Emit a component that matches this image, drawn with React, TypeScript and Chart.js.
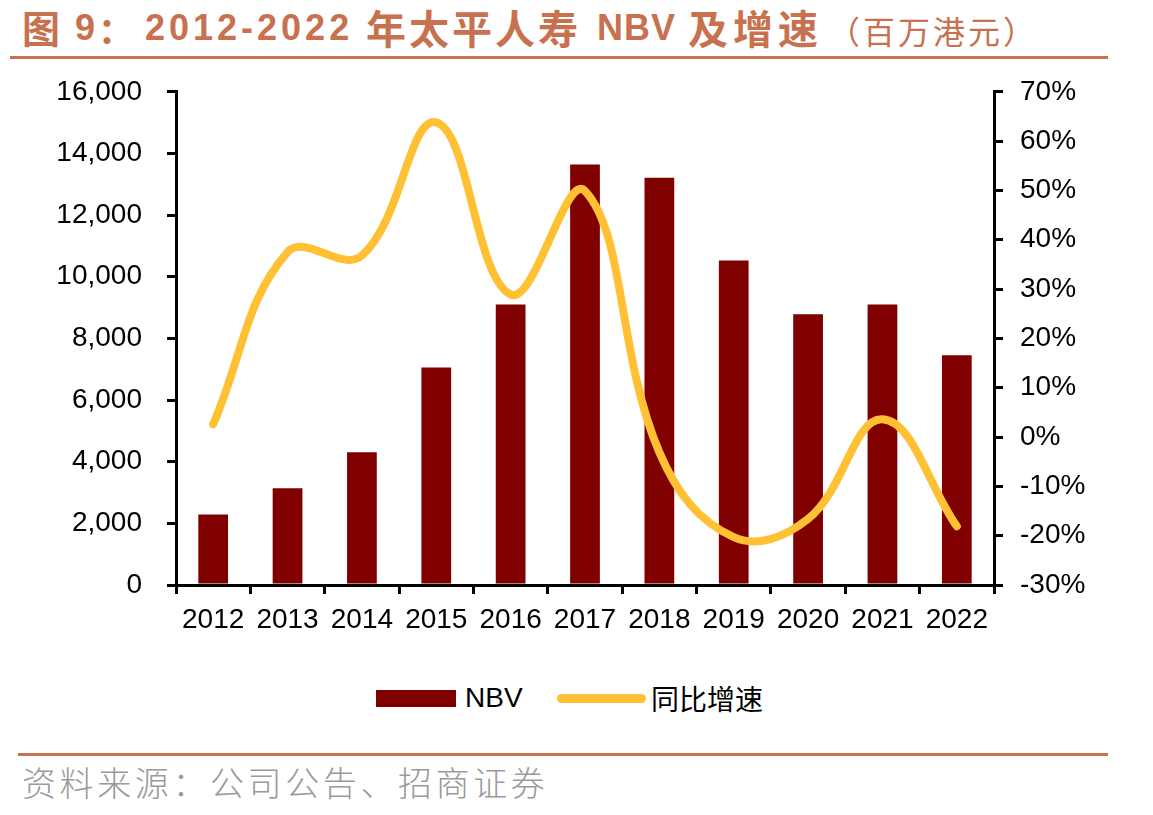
import React, { useEffect, useRef } from 'react';
import { Chart, registerables } from 'chart.js';

Chart.register(...registerables);

const years = ['2012', '2013', '2014', '2015', '2016', '2017', '2018', '2019', '2020', '2021', '2022'];
const nbv = [2290, 3140, 4310, 7060, 9100, 13640, 13215, 10530, 8780, 9100, 7450];
const growth = [2.6, 37.5, 36.8, 63.8, 28.9, 49.9, -3.1, -20.3, -16.6, 3.6, -18.1];

const leftMin = 0;
const leftMax = 16000;
const leftStep = 2000;
const rightMin = -30;
const rightMax = 70;
const rightStep = 10;

const BAR_COLOR = '#800000';
const LINE_COLOR = '#FFC133';
const ACCENT = '#C8714F';
const TICK_FONT = { family: '"Liberation Sans", Arial, sans-serif', size: 28 };

export default function App() {
  const canvasRef = useRef<HTMLCanvasElement | null>(null);

  useEffect(() => {
    if (!canvasRef.current) return;
    const chart = new Chart(canvasRef.current, {
      type: 'bar',
      data: {
        labels: years,
        datasets: [
          {
            type: 'line',
            label: '同比增速',
            data: growth,
            yAxisID: 'y1',
            borderColor: LINE_COLOR,
            backgroundColor: LINE_COLOR,
            borderWidth: 8,
            tension: 0.4,
            pointRadius: 0,
            pointHoverRadius: 0,
            borderCapStyle: 'round',
            borderJoinStyle: 'round',
            order: 0,
            clip: false as any,
          } as any,
          {
            type: 'bar',
            label: 'NBV',
            data: nbv,
            yAxisID: 'y',
            backgroundColor: BAR_COLOR,
            categoryPercentage: 1,
            barPercentage: 0.4,
            order: 1,
          },
        ],
      },
      options: {
        animation: false,
        responsive: false,
        devicePixelRatio: 1,
        layout: { padding: { top: 21, left: 0, right: 0, bottom: 0 } },
        plugins: {
          legend: { display: false },
          tooltip: { enabled: false },
        },
        scales: {
          x: {
            type: 'category',
            offset: true,
            grid: {
              offset: true,
              drawOnChartArea: false,
              drawTicks: true,
              tickLength: 9,
              lineWidth: 3,
              color: '#000',
            },
            border: { display: true, color: '#000', width: 3 },
            ticks: { font: TICK_FONT, color: '#000', padding: 9, maxRotation: 0, autoSkip: false },
            afterFit: (scale: any) => {
              scale.height = 85;
            },
          },
          y: {
            type: 'linear',
            position: 'left',
            min: leftMin,
            max: leftMax,
            grid: {
              drawOnChartArea: false,
              drawTicks: true,
              tickLength: 9,
              lineWidth: 3,
              color: '#000',
            },
            border: { display: true, color: '#000', width: 3 },
            ticks: {
              stepSize: leftStep,
              font: TICK_FONT,
              color: '#000',
              padding: 25,
              callback: (v: any) => Number(v).toLocaleString('en-US'),
            },
            afterFit: (scale: any) => {
              scale.width = 176;
            },
          },
          y1: {
            type: 'linear',
            position: 'right',
            min: rightMin,
            max: rightMax,
            grid: {
              drawOnChartArea: false,
              drawTicks: true,
              tickLength: 9,
              lineWidth: 3,
              color: '#000',
            },
            border: { display: true, color: '#000', width: 3 },
            ticks: {
              stepSize: rightStep,
              font: TICK_FONT,
              color: '#000',
              padding: 17,
              callback: (v: any) => `${Math.round(Number(v))}%`,
            },
            afterFit: (scale: any) => {
              scale.width = 159;
            },
          },
        },
      },
    });
    return () => chart.destroy();
  }, []);

  const latin = '"Liberation Sans", Arial, sans-serif';
  const cjkFont = '"Noto Sans CJK SC", sans-serif';
  const titleBase: React.CSSProperties = {
    position: 'absolute',
    top: 6,
    whiteSpace: 'nowrap',
    color: ACCENT,
    fontWeight: 700,
    lineHeight: '44px',
  };

  return (
    <div style={{ position: 'absolute', left: 0, top: 0, width: 1153, height: 815, background: '#fff', overflow: 'hidden' }}>
      <span style={{ ...titleBase, left: 22, top: 5, fontFamily: cjkFont, fontSize: 38 }}>图</span>
      <span style={{ ...titleBase, left: 75, fontFamily: latin, fontSize: 36 }}>9</span>
      <span style={{ ...titleBase, left: 98, fontFamily: cjkFont, fontSize: 36 }}>：</span>
      <span style={{ ...titleBase, left: 145, fontFamily: latin, fontSize: 36, letterSpacing: 4 }}>2012-2022</span>
      <span style={{ ...titleBase, left: 366, top: 5, fontFamily: cjkFont, fontSize: 40, letterSpacing: 3 }}>年太平人寿</span>
      <span style={{ ...titleBase, left: 597, fontFamily: latin, fontSize: 36, letterSpacing: 1 }}>NBV</span>
      <span style={{ ...titleBase, left: 688, top: 5, fontFamily: cjkFont, fontSize: 40, letterSpacing: 5 }}>及增速</span>
      <span style={{ ...titleBase, left: 828, top: 8, fontFamily: cjkFont, fontSize: 32, fontWeight: 400, letterSpacing: 3 }}>（百万港元）</span>
      <div style={{ position: 'absolute', left: 10, top: 56, width: 1098, height: 3, background: ACCENT }} />
      <canvas
        ref={canvasRef}
        width={1153}
        height={620}
        style={{ position: 'absolute', left: 0, top: 50, width: 1153, height: 620 }}
      />
      <div style={{ position: 'absolute', left: 376, top: 690, width: 80, height: 17, background: BAR_COLOR }} />
      <div
        style={{
          position: 'absolute',
          left: 465,
          top: 680,
          fontFamily: latin,
          fontSize: 28,
          lineHeight: '36px',
          color: '#000',
        }}
      >
        NBV
      </div>
      <div style={{ position: 'absolute', left: 557, top: 694, width: 89, height: 9, borderRadius: 5, background: LINE_COLOR }} />
      <div
        style={{
          position: 'absolute',
          left: 651,
          top: 680,
          fontFamily: cjkFont,
          fontSize: 28,
          lineHeight: '36px',
          color: '#000',
        }}
      >
        同比增速
      </div>
      <div style={{ position: 'absolute', left: 18, top: 753, width: 1090, height: 3, background: ACCENT }} />
      <div
        style={{
          position: 'absolute',
          left: 22,
          top: 760,
          whiteSpace: 'nowrap',
          fontFamily: cjkFont,
          fontWeight: 300,
          fontSize: 34,
          lineHeight: '44px',
          letterSpacing: 3.6,
          color: '#9a9a9a',
        }}
      >
        资料来源：公司公告、招商证券
      </div>
    </div>
  );
}
